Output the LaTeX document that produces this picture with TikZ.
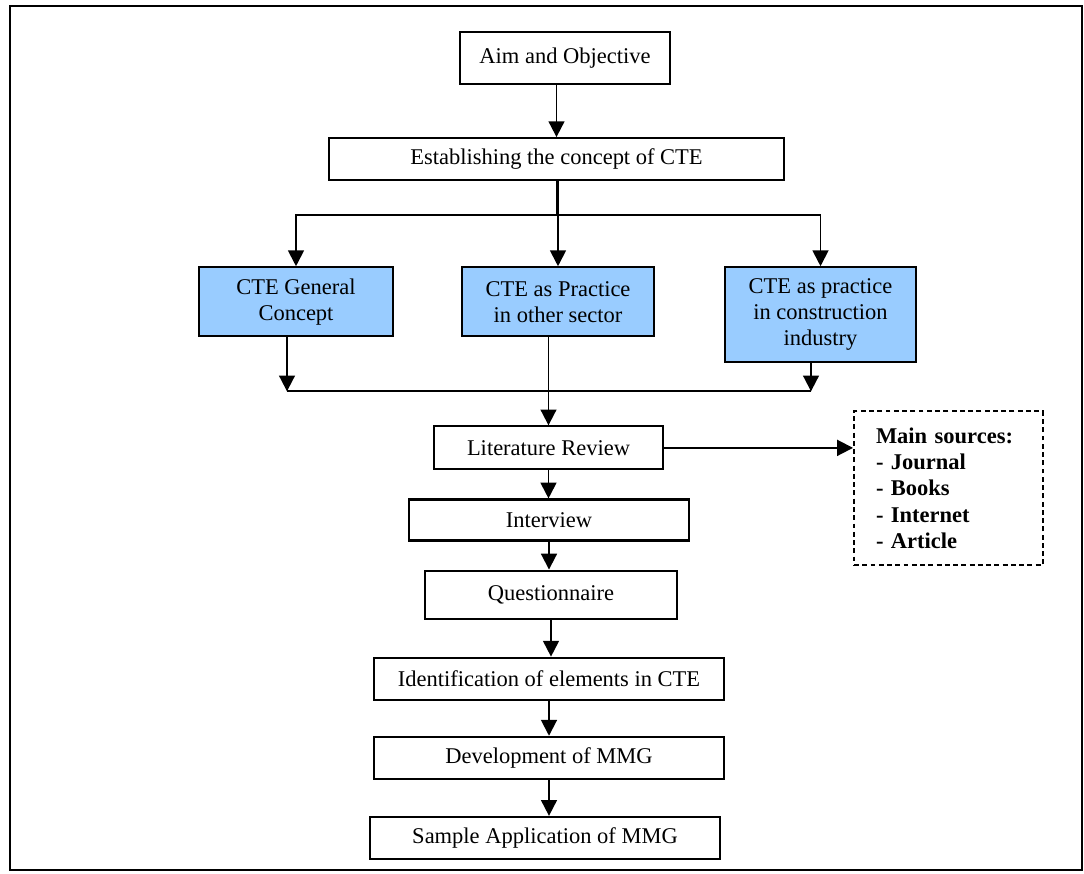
\documentclass[tikz,border=0pt]{standalone}
\usepackage{fontspec}
\setmainfont{Liberation Serif}
\usetikzlibrary{calc,arrows.meta}
\definecolor{topicblue}{RGB}{153,204,255}

\begin{document}
\begin{tikzpicture}[box/.style={draw,line width=1.2pt,fill=white,align=center,inner sep=2pt,font=\fontsize{12.8}{14.8}\selectfont},
  topic/.style={box,fill=topicblue,minimum height=1.38cm},
  sources/.style={draw,dashed,dash pattern=on 2.8pt off 1.9pt,line width=1.1pt,align=left,text width=2.9cm,inner xsep=0.44cm,minimum width=3.78cm,minimum height=3.08cm,font=\fontsize{12.8}{14.8}\selectfont\bfseries},
  link/.style={line width=1.1pt}, arrow/.style={-{Triangle[length=9pt,width=9pt]},line width=1.1pt}]
  \useasboundingbox (0,0) rectangle (21.68,-17.46);
  \draw[line width=1.2pt] (0.2,-0.12) rectangle (21.64,-17.40);

  \node[box,anchor=north,minimum width=4.2cm,minimum height=1.04cm] (aim) at (11.3,-0.62) {Aim and Objective};
  \node[box,anchor=north,minimum width=9.1cm,minimum height=0.84cm] (establish) at ($ (aim.south) + (-0.17,-1.04) $) {Establishing the concept of CTE};
  \node[topic,anchor=north,minimum width=3.84cm] (other) at ($ (establish.south) + (0.03,-1.70) $) {CTE as Practice\\in other sector};
  \node[topic,anchor=north,minimum width=3.88cm] (general) at ($ (other.north) + (-5.24,0) $) {CTE General\\Concept};
  \node[topic,anchor=north,minimum width=3.82cm,minimum height=1.9cm] (construction) at ($ (other.north) + (5.25,0) $) {CTE as practice\\in construction\\industry};
  \node[box,anchor=north,minimum width=4.58cm,minimum height=0.86cm] (literature) at ($ (other.south) + (-0.19,-1.76) $) {Literature Review};
  \node[box,anchor=north,minimum width=5.6cm,minimum height=0.82cm] (interview) at ($ (literature.south) + (0.01,-0.56) $) {Interview};
  \node[box,anchor=north,minimum width=5.04cm,minimum height=0.96cm] (questionnaire) at ($ (interview.south) + (0.04,-0.56) $) {Questionnaire};
  \node[box,anchor=north,minimum width=7.0cm,minimum height=0.84cm] (identification) at ($ (questionnaire.south) + (-0.04,-0.74) $) {Identification of elements in CTE};
  \node[box,anchor=north,minimum width=7.0cm,minimum height=0.84cm] (development) at ($ (identification.south) + (0,-0.70) $) {Development of MMG};
  \node[box,anchor=north,minimum width=7.0cm,minimum height=0.84cm] (sample) at ($ (development.south) + (-0.08,-0.72) $) {Sample Application of MMG};
  \node[sources,anchor=north] (main sources) at ($ (literature.north) + (8.0,0.30) $) {Main sources:\\- Journal\\- Books\\- Internet\\- Article};

  \coordinate (split) at ($ (establish.south) + (0,-0.68) $);
  \coordinate (join) at ($ (other.south) + (0,-1.08) $);
  \coordinate (general out) at ($ (general.south) + (-0.18,0) $);
  \coordinate (construction out) at ($ (construction.south) + (-0.19,0) $);

  \draw[arrow] (aim.south -| establish.north) -- (establish.north);
  \draw[link] (establish.south) -- (split);
  \draw[arrow] (split) -| (general.north);
  \draw[arrow] (split) -| (construction.north);
  \draw[arrow] (establish.south -| other.north) -- (other.north);

  \draw[arrow] (general out) -- (general out |- join);
  \draw[arrow] (construction out) -- (construction out |- join);
  \draw[link] (general out |- join) -- (construction out |- join);
  \draw[arrow] (literature.north |- other.south) -- (literature.north);

  \draw[arrow] (literature.east) -- (literature.east -| main sources.west);
  \foreach \a/\b in {literature/interview,interview/questionnaire,questionnaire/identification,identification/development,development/sample}
    \draw[arrow] (\a.south) -- (\a.south |- \b.north);
\end{tikzpicture}
\end{document}
